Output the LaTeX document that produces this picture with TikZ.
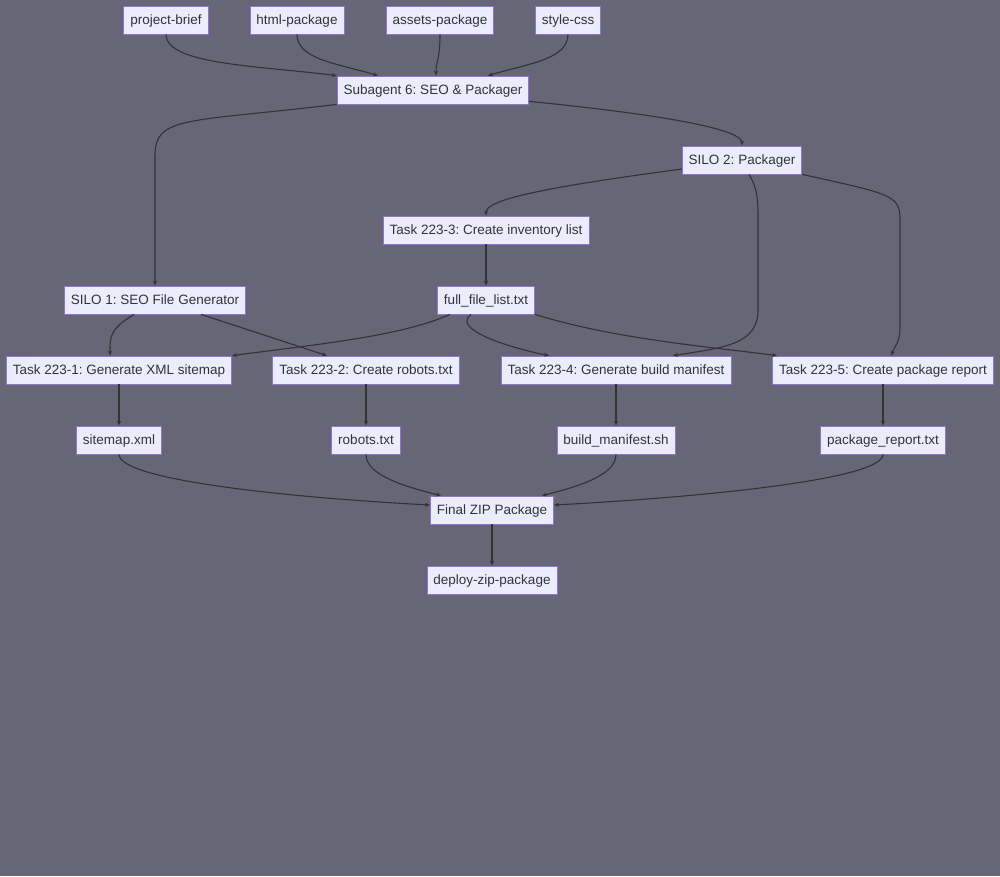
\documentclass[tikz,border=0pt]{standalone}
\usepackage{fontspec}
\setmainfont{Liberation Sans}
\usepackage{tikz}
\usetikzlibrary{arrows.meta,positioning}
\usepackage{xcolor}
\definecolor{bgcol}{HTML}{666677}
\definecolor{nodefill}{HTML}{ECECFF}
\definecolor{nodeline}{HTML}{9370DB}
\definecolor{edgecol}{HTML}{333333}
\frenchspacing

\begin{document}
\begin{tikzpicture}[
    x=1pt, y=-1pt,
    node distance=70pt,
    box/.style={draw=nodeline, fill=nodefill, rectangle, minimum height=28pt, inner xsep=6.5pt, inner ysep=0pt, text height=9.7pt, text depth=0pt, text=edgecol, font=\fontsize{13.5}{16}\selectfont, line width=0.75pt},
    link/.style={draw=edgecol, line width=1.1pt, -{Stealth[length=5pt,width=4pt]}}
]
\fill[bgcol] (0,0) rectangle (1000,876);
\useasboundingbox (0,0) rectangle (1000,876);

\node (brief) [box] at (166,20) {project-brief};
\node (html) [box] at (297,20) {html-package};
\node (assets) [box] at (440,20) {assets-package};
\node (style) [box] at (568,20) {style-css};
\node (sub) [box] at (433,90) {Subagent 6: SEO \& Packager};
\node (silo2) [box] at (742,160) {SILO 2: Packager};
\node (t3) [box] at (486,230) {Task 223-3: Create inventory list};
\node (full) [box, below of=t3] {full\_file\_list.txt};
\node (silo1) [box] at (155,300) {SILO 1: SEO File Generator};
\node (t1) [box] at (119,370) {Task 223-1: Generate XML sitemap};
\node (t2) [box] at (366,370) {Task 223-2: Create robots.txt};
\node (t4) [box] at (616,370) {Task 223-4: Generate build manifest};
\node (t5) [box] at (883,370) {Task 223-5: Create package report};
\node (sitemap) [box, below of=t1] {sitemap.xml};
\node (robots) [box, below of=t2] {robots.txt};
\node (build) [box, below of=t4] {build\_manifest.sh};
\node (report) [box, below of=t5] {package\_report.txt};
\node (final) [box] at (492,510) {Final ZIP Package};
\node (deploy) [box, below of=final] {deploy-zip-package};

% inputs into the subagent
\draw [link] (brief.south) .. controls +(0,30) and +(-80,-10) .. (sub.north west);
\draw [link] (html.south) .. controls +(0,25) and +(-40,-12) .. ([xshift=-55pt]sub.north);
\draw [link] (assets.south) .. controls +(0,25) and +(0,-15) .. ([xshift=3pt]sub.north);
\draw [link] (style.south) .. controls +(0,25) and +(40,-12) .. ([xshift=55pt]sub.north);

% silos
\draw [link] (sub.south west) .. controls +(-150,18) and +(0,-40) .. ([yshift=130pt]silo1.north) -- (silo1.north);
\draw [link] ([yshift=3pt]sub.south east) .. controls +(150,15) and +(0,-15) .. (silo2.north);

% silo 2 tasks
\draw [link] ([yshift=-9pt]silo2.west) .. controls +(-150,20) and +(0,-15) .. (t3.north);
\draw [link] ([xshift=7pt]silo2.south) .. controls +(7,12) and +(0,-20) .. (758,215) -- (758,310) .. controls +(0,35) and +(50,-8) .. ([xshift=57pt]t4.north);
\draw [link] (silo2.south east) .. controls +(90,20) and +(0,-25) .. (900,220) -- (900,325) .. controls +(0,18) and +(5,-12) .. ([xshift=8pt]t5.north);
\draw [link] (t3) -- (full);

% silo 1 tasks
\draw [link] ([xshift=-21pt]silo1.south) .. controls +(-25,15) and +(0,-18) .. ([xshift=-9pt]t1.north);
\draw [link] ([xshift=46pt]silo1.south) -- ([xshift=-39pt]t2.north);

% inventory list feeds the tasks
\draw [link] ([xshift=-36pt]full.south) .. controls +(-50,22) and +(90,-12) .. (t1.north east);
\draw [link] ([xshift=-15pt]full.south) .. controls +(-20,15) and +(-40,-8) .. ([xshift=-67pt]t4.north);
\draw [link] (full.south east) .. controls +(80,25) and +(-60,-8) .. ([xshift=-106pt]t5.north);

% task outputs
\draw [link] (t1) -- (sitemap);
\draw [link] (t2) -- (robots);
\draw [link] (t4) -- (build);
\draw [link] (t5) -- (report);

% final package
\draw [link] (sitemap.south) .. controls +(0,25) and +(-150,-8) .. ([yshift=5pt]final.west);
\draw [link] (robots.south) .. controls +(0,20) and +(-40,-10) .. ([xshift=-51pt]final.north);
\draw [link] (build.south) .. controls +(0,20) and +(40,-10) .. ([xshift=50pt]final.north);
\draw [link] (report.south) .. controls +(0,25) and +(150,-8) .. ([yshift=5pt]final.east);
\draw [link] (final) -- (deploy);
\end{tikzpicture}
\end{document}
